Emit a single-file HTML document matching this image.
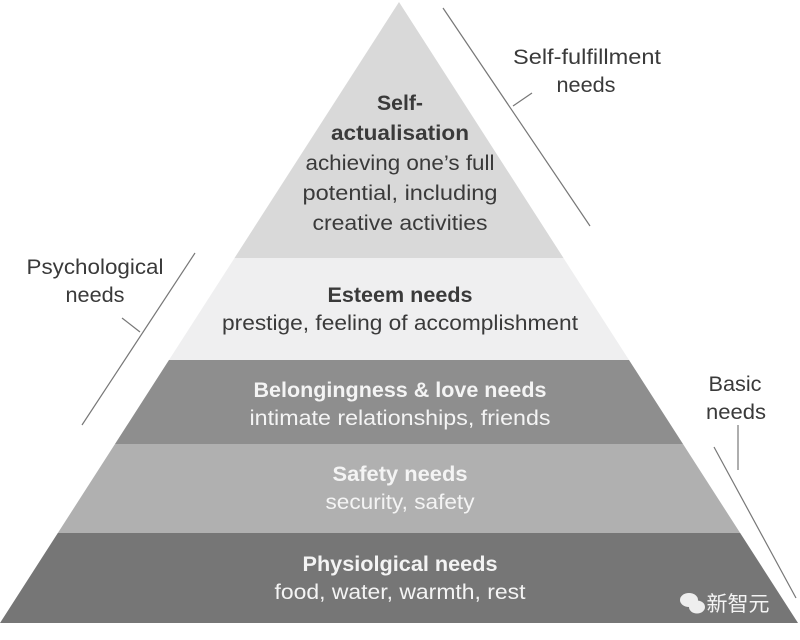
<!DOCTYPE html>
<html><head><style>body{margin:0;background:#fff}svg{display:block}text{font-family:"Liberation Sans","Noto Sans CJK SC",sans-serif;font-size:21px;text-anchor:middle}</style></head><body>
<svg width="800" height="640" viewBox="0 0 800 640">
<clipPath id="c"><polygon points="399,2 0,623 798,623"/></clipPath>
<g clip-path="url(#c)">
<rect x="0" y="0" width="800" height="258" fill="#d9d9d9"/>
<rect x="0" y="258" width="800" height="102" fill="#efeff0"/>
<rect x="0" y="360" width="800" height="84" fill="#8e8e8e"/>
<rect x="0" y="444" width="800" height="89" fill="#b0b0b0"/>
<rect x="0" y="533" width="800" height="90" fill="#767676"/>
</g>
<g stroke="#777" stroke-width="1.2">
<line x1="443" y1="8" x2="590" y2="226"/><line x1="513" y1="106" x2="532" y2="93"/>
<line x1="195" y1="253" x2="82" y2="425"/><line x1="122" y1="318" x2="140" y2="332"/>
<line x1="714" y1="447" x2="796" y2="598"/><line x1="738" y1="425" x2="738" y2="470"/>
</g>
<g fill="#3a3a3a" lengthAdjust="spacingAndGlyphs">
<text x="400" y="110" font-weight="bold" textLength="46" lengthAdjust="spacingAndGlyphs">Self-</text>
<text x="400" y="140" font-weight="bold" textLength="138" lengthAdjust="spacingAndGlyphs">actualisation</text>
<text x="400" y="170" textLength="189" lengthAdjust="spacingAndGlyphs">achieving one’s full</text>
<text x="400" y="200" textLength="195" lengthAdjust="spacingAndGlyphs">potential, including</text>
<text x="400" y="230" textLength="175" lengthAdjust="spacingAndGlyphs">creative activities</text>
<text x="400" y="302" font-weight="bold" textLength="145" lengthAdjust="spacingAndGlyphs">Esteem needs</text>
<text x="400" y="330" textLength="356" lengthAdjust="spacingAndGlyphs">prestige, feeling of accomplishment</text>
<text x="587" y="64" textLength="148" lengthAdjust="spacingAndGlyphs">Self-fulfillment</text>
<text x="586" y="92" textLength="59" lengthAdjust="spacingAndGlyphs">needs</text>
<text x="95" y="274" textLength="137" lengthAdjust="spacingAndGlyphs">Psychological</text>
<text x="95" y="302" textLength="59" lengthAdjust="spacingAndGlyphs">needs</text>
<text x="735" y="391" textLength="53" lengthAdjust="spacingAndGlyphs">Basic</text>
<text x="736" y="419" textLength="60" lengthAdjust="spacingAndGlyphs">needs</text>
</g>
<g fill="#f4f4f4">
<text x="400" y="397" font-weight="bold" textLength="293" lengthAdjust="spacingAndGlyphs">Belongingness &amp; love needs</text>
<text x="400" y="425" textLength="301" lengthAdjust="spacingAndGlyphs">intimate relationships, friends</text>
<text x="400" y="481" font-weight="bold" textLength="135" lengthAdjust="spacingAndGlyphs">Safety needs</text>
<text x="400" y="509" textLength="149" lengthAdjust="spacingAndGlyphs">security, safety</text>
<text x="400" y="571" font-weight="bold" textLength="195" lengthAdjust="spacingAndGlyphs">Physiolgical needs</text>
<text x="400" y="599" textLength="251" lengthAdjust="spacingAndGlyphs">food, water, warmth, rest</text>
<text x="738" y="611" font-size="20">新智元</text>
</g>
<g fill="#eee"><ellipse cx="689" cy="600" rx="9" ry="7"/><ellipse cx="697" cy="607" rx="8" ry="6.5"/></g>
</svg>
</body></html>
